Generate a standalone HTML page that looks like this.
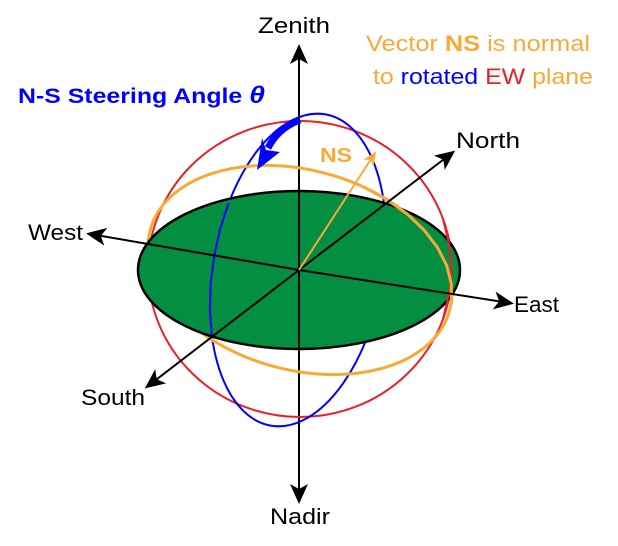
<!DOCTYPE html>
<html><head><style>html,body{margin:0;padding:0;background:#fff}</style></head>
<body>
<svg width="618" height="541" viewBox="0 0 618 541" xmlns="http://www.w3.org/2000/svg" font-family="Liberation Sans, sans-serif">
<defs>
<marker id="ahs" markerWidth="20" markerHeight="20" refX="16" refY="10" orient="auto" markerUnits="userSpaceOnUse" viewBox="0 0 20 20">
<path d="M0,1 L20,10 L0,19 L5,10 Z" fill="#000"/>
</marker>
<marker id="aho" markerWidth="14" markerHeight="14" refX="12" refY="7" orient="auto" markerUnits="userSpaceOnUse" viewBox="0 0 14 14">
<path d="M0,1 L14,7 L0,13 L4,7 Z" fill="#f9a935"/>
</marker>
</defs>
<line x1="299" y1="270" x2="299" y2="48" stroke="#000" stroke-width="2" marker-end="url(#ahs)"/>
<line x1="299" y1="270" x2="299" y2="500" stroke="#000" stroke-width="2" marker-end="url(#ahs)"/>
<ellipse cx="300" cy="269" rx="152" ry="148" fill="none" stroke="#e8202a" stroke-width="2"/>
<ellipse cx="298" cy="270" rx="85" ry="158" transform="rotate(10 298 270)" fill="none" stroke="#0000ff" stroke-width="2"/>
<ellipse cx="300" cy="270" rx="155" ry="100" transform="rotate(15 300 270)" fill="none" stroke="#f9a935" stroke-width="3"/>
<ellipse cx="299" cy="270" rx="161" ry="79" fill="#038e42" stroke="#000" stroke-width="2.5"/>
<polyline points="228.7,202.9 220.3,228.3 214.3,255.2 210.7,282.5 209.9,309.3 211.8,335" fill="none" stroke="#0000ff" stroke-width="2" stroke-linejoin="round"/>
<polyline points="442.8,218.4 449,244 452,269 449,294 442.8,319.6" fill="none" stroke="#e8202a" stroke-width="2" stroke-linejoin="round"/>
<polyline points="363.8,187 386.8,199.5 407.1,213.9 424.2,230.1 437.5,247.5 446.7,265.5 451.3,283.8 451.4,301.6" fill="none" stroke="#f9a935" stroke-width="3" stroke-linejoin="round"/>
<line x1="299" y1="190" x2="299" y2="349" stroke="#000" stroke-width="2"/>
<line x1="299" y1="270" x2="90" y2="234" stroke="#000" stroke-width="2" marker-end="url(#ahs)"/>
<line x1="299" y1="270" x2="510" y2="303" stroke="#000" stroke-width="2" marker-end="url(#ahs)"/>
<line x1="299" y1="270" x2="452" y2="153" stroke="#000" stroke-width="2" marker-end="url(#ahs)"/>
<line x1="299" y1="270" x2="148" y2="386" stroke="#000" stroke-width="2" marker-end="url(#ahs)"/>
<line x1="299" y1="270" x2="375" y2="153" stroke="#f9a935" stroke-width="2" marker-end="url(#aho)"/>
<path d="M300,120 Q278,128 268,148" fill="none" stroke="#0000ff" stroke-width="7"/>
<path d="M257,170 L262,138 L266,150 L280,152 Z" fill="#0000ff"/>
<g font-size="22">
<text x="258" y="33" fill="#000" textLength="72" lengthAdjust="spacingAndGlyphs">Zenith</text>
<text x="270" y="524" fill="#000" textLength="60" lengthAdjust="spacingAndGlyphs">Nadir</text>
<text x="28" y="240" fill="#000" textLength="55" lengthAdjust="spacingAndGlyphs">West</text>
<text x="514" y="312" fill="#000" textLength="45" lengthAdjust="spacingAndGlyphs">East</text>
<text x="456" y="148" fill="#000" textLength="64" lengthAdjust="spacingAndGlyphs">North</text>
<text x="81" y="405" fill="#000" textLength="64" lengthAdjust="spacingAndGlyphs">South</text>
<text x="366" y="51" fill="#f9a935" textLength="224" lengthAdjust="spacingAndGlyphs">Vector <tspan font-weight="bold">NS</tspan> is normal</text>
<text x="373" y="84" fill="#f9a935" textLength="220" lengthAdjust="spacingAndGlyphs">to <tspan fill="#0000ff">rotated</tspan> <tspan fill="#e8202a">EW</tspan> plane</text>
<text x="18" y="103" fill="#0000ff" font-weight="bold" font-size="21" textLength="247" lengthAdjust="spacingAndGlyphs">N-S Steering Angle <tspan font-style="italic" font-size="24">θ</tspan></text>
<text x="320" y="162" fill="#f9a935" font-weight="bold" font-size="20" textLength="32" lengthAdjust="spacingAndGlyphs">NS</text>
</g>
</svg>
</body></html>
